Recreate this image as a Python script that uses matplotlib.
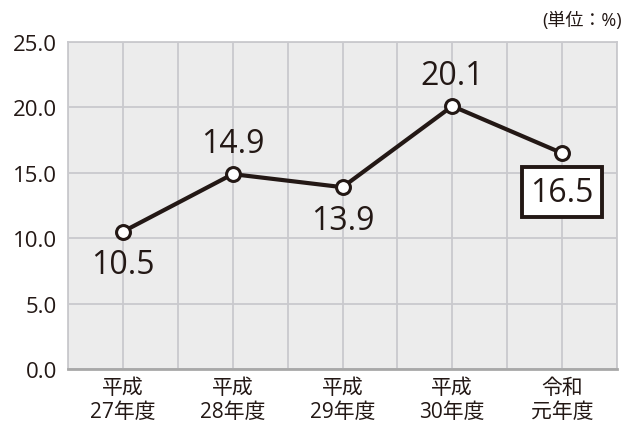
import numpy as np
import matplotlib.pyplot as plt

plt.rcParams['font.family'] = ['Open Sans', 'Noto Sans CJK JP', 'DejaVu Sans']

# data
years = ['平成\n27年度', '平成\n28年度', '平成\n29年度', '平成\n30年度', '令和\n元年度']
values = [10.5, 14.9, 13.9, 20.1, 16.5]
label_pos = ['below', 'above', 'below', 'above', 'box']
yticks = [0, 5, 10, 15, 20, 25]

ink = '#231815'

fig = plt.figure(figsize=(6.3, 4.27), dpi=100)
ax = fig.add_axes([68 / 630, 1 - 370 / 427, 549 / 630, 327 / 427])
ax.set_facecolor('#ececec')

x = np.arange(len(values))
ax.set_xlim(-0.5, len(values) - 0.5)
ax.set_ylim(0, 25)

# grid: vertical every half category, horizontal every 5
for gx in np.arange(-0.5, len(values), 0.5):
    ax.axvline(gx, color='#c9c9cd', lw=1.3, zorder=1)
for gy in yticks:
    ax.axhline(gy, color='#c9c9cd', lw=1.3, zorder=1)

ax.plot(x, values, color=ink, lw=3, zorder=3,
        marker='o', markersize=10, markerfacecolor='white',
        markeredgecolor=ink, markeredgewidth=2.2)

for xi, v, pos in zip(x, values, label_pos):
    if pos == 'above':
        ax.annotate(f'{v:.1f}', (xi, v), xytext=(0, 22), textcoords='offset points',
                    ha='center', va='center', fontsize=23, color=ink)
    elif pos == 'below':
        ax.annotate(f'{v:.1f}', (xi, v), xytext=(0, -24), textcoords='offset points',
                    ha='center', va='center', fontsize=23, color=ink)
    else:
        ax.annotate(f'{v:.1f}', (xi, v), xytext=(0, -28), textcoords='offset points',
                    ha='center', va='center', fontsize=23, color=ink,
                    bbox=dict(boxstyle='square,pad=0.27', fc='white', ec=ink, lw=2.8))

ax.set_xticks(x)
ax.set_xticklabels(years, fontsize=15, color=ink, linespacing=1.15)
ax.set_yticks(yticks)
ax.set_yticklabels([f'{t:.1f}' for t in yticks], fontsize=16, color=ink)
ax.tick_params(axis='y', length=0, pad=8)
ax.tick_params(axis='x', length=0, pad=6)

for name, sp in ax.spines.items():
    sp.set_color('#c9c9cd')
    sp.set_linewidth(1.3)
ax.spines['bottom'].set_color('#a8a8a8')
ax.spines['bottom'].set_linewidth(2)

fig.text(622 / 630, 1 - 21 / 427, '(単位：%)', ha='right', va='center',
         fontsize=13, color=ink)

fig.savefig('out.png', dpi=100)
